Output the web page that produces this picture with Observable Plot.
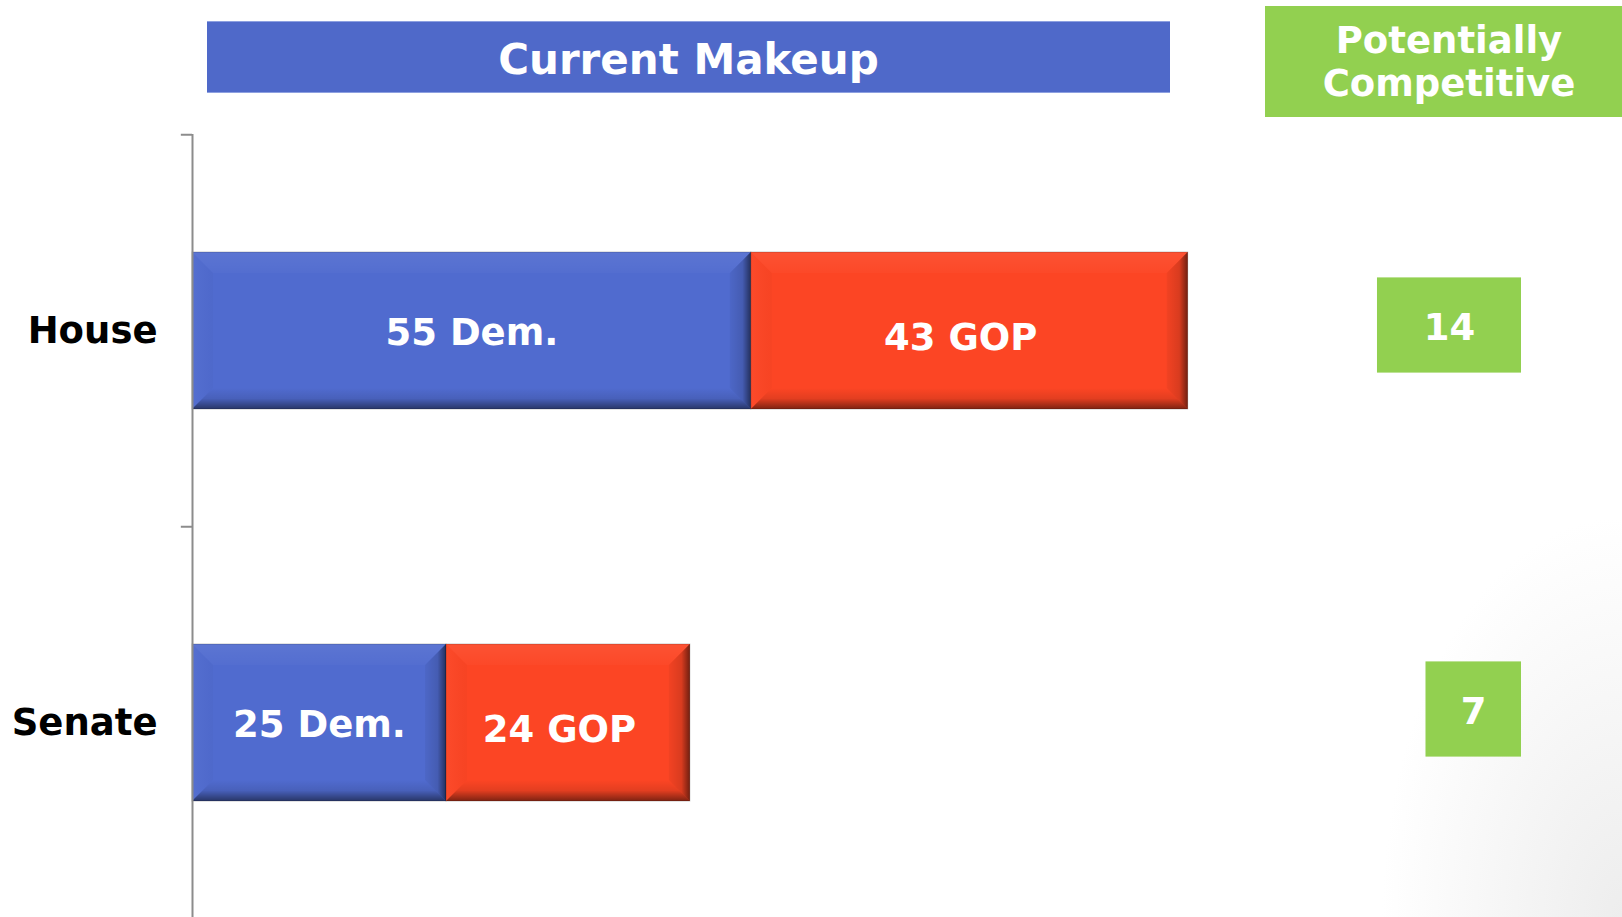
<!DOCTYPE html>
<html>
<head>
<meta charset="utf-8">
<script src="https://cdn.jsdelivr.net/npm/d3@7"></script>
<script src="https://cdn.jsdelivr.net/npm/@observablehq/plot@0.6"></script>
<style>
html, body { margin: 0; padding: 0; }
body {
  width: 1622px; height: 917px; overflow: hidden; position: relative;
  font-family: "DejaVu Sans", Verdana, sans-serif;
  background: radial-gradient(ellipse 240px 400px at 100% 100%, #ededed 0%, #f6f6f6 50%, #ffffff 100%);
}
#stage { position: absolute; left: 0; top: 0; width: 1622px; height: 917px; }
#stage svg { position: absolute; left: 0; top: 0; }
.hdr { position: absolute; color: #fff; font-weight: bold; text-align: center; box-sizing: border-box; white-space: nowrap; }
#title {
  left: 207px; top: 21px; width: 963px; height: 72px;
  background: #4F69C9; border-top: 1px solid #8da0e0; border-bottom: 1px solid #8da0e0;
  font-size: 42px; line-height: 70px; padding-top: 3px;
}
#comp {
  left: 1265px; top: 6px; width: 368px; height: 111px;
  background: #92D050; font-size: 37px; line-height: 43px; padding-top: 13px;
}
</style>
</head>
<body>
<div id="stage"></div>
<div id="title" class="hdr">Current Makeup</div>
<div id="comp" class="hdr">Potentially<br>Competitive</div>
<script>
// ---- data ----
const chambers = ["House", "Senate"];
const demSeats = [55, 25];
const gopSeats = [43, 24];
const competitive = [14, 7];
const partyNames = ["Dem.", "GOP"];
const partyColors = ["#506BCF", "#FC4524"];

// table built from the arrays
const rows = [];
chambers.forEach((c, i) => {
  rows.push({chamber: c, party: partyNames[0], seats: demSeats[i], x1: 0, x2: demSeats[i]});
  rows.push({chamber: c, party: partyNames[1], seats: gopSeats[i], x1: demSeats[i], x2: demSeats[i] + gopSeats[i]});
});
const comp = chambers.map((c, i) => ({chamber: c, value: competitive[i]}));

const FONT = "'DejaVu Sans', Verdana, sans-serif";
const yBand = {domain: chambers, paddingInner: 0.6, paddingOuter: 0.3, axis: null};
const STEP = (920 - 1 - 134) / 2;

const main = Plot.plot({
  width: 1622, height: 920,
  marginTop: 134, marginBottom: 1, marginLeft: 192, marginRight: 7.6,
  x: {domain: [0, 140], axis: null},
  y: yBand,
  color: {domain: partyNames, range: partyColors},
  style: {background: "transparent", fontFamily: FONT, overflow: "visible"},
  marks: [
    Plot.barX(rows, {y: "chamber", x1: "x1", x2: "x2", fill: "party", stroke: "rgba(0,0,0,0.22)", strokeWidth: 1}),
    Plot.ruleX([0], {stroke: "#8c8c8c", strokeWidth: 2}),
    Plot.ruleY(chambers, {y: d => d, x1: -1.1, x2: 0, dy: -STEP / 2, stroke: "#8c8c8c", strokeWidth: 2}),
    Plot.text(chambers, {y: d => d, x: 0, dx: -35, textAnchor: "end", text: d => d,
      fontSize: 37, fontWeight: "bold", fill: "black"}),
    Plot.text(rows.filter(d => d.party === partyNames[0]), {
      y: "chamber", x: d => (d.x1 + d.x2) / 2, dy: 2.5, text: d => `${d.seats} ${d.party}`,
      fill: "white", fontSize: 37, fontWeight: "bold"}),
    Plot.text(rows.filter(d => d.party === partyNames[1]), {
      y: "chamber", x: d => (d.x1 + d.x2) / 2, dx: -9, dy: 7, text: d => `${d.seats} ${d.party}`,
      fill: "white", fontSize: 37, fontWeight: "bold"})
  ]
});

// bevel decoration on the library-drawn bars
(function bevel(svg) {
  const ns = "http://www.w3.org/2000/svg";
  const defs = document.createElementNS(ns, "defs");
  defs.innerHTML = `
    <linearGradient id="bvBottom" x1="0" y1="0" x2="0" y2="1">
      <stop offset="0" stop-color="#000" stop-opacity="0"/>
      <stop offset="0.5" stop-color="#000" stop-opacity="0.1"/>
      <stop offset="1" stop-color="#000" stop-opacity="0.5"/>
    </linearGradient>
    <linearGradient id="bvRight" x1="0" y1="0" x2="1" y2="0">
      <stop offset="0" stop-color="#000" stop-opacity="0.04"/>
      <stop offset="0.6" stop-color="#000" stop-opacity="0.14"/>
      <stop offset="1" stop-color="#000" stop-opacity="0.55"/>
    </linearGradient>
    <linearGradient id="bvTop" x1="0" y1="0" x2="0" y2="1">
      <stop offset="0" stop-color="#fff" stop-opacity="0.07"/>
      <stop offset="1" stop-color="#fff" stop-opacity="0.02"/>
    </linearGradient>
    <linearGradient id="bvLeft" x1="0" y1="0" x2="1" y2="0">
      <stop offset="0" stop-color="#fff" stop-opacity="0.03"/>
      <stop offset="1" stop-color="#000" stop-opacity="0.02"/>
    </linearGradient>`;
  svg.insertBefore(defs, svg.firstChild);
  const rects = Array.from(svg.querySelectorAll('g[aria-label="bar"] rect'));
  rects.forEach(r => {
    const x = +r.getAttribute("x"), y = +r.getAttribute("y");
    const w = +r.getAttribute("width"), h = +r.getAttribute("height");
    const b = 21;
    const g = r.parentNode;
    const poly = (pts, fill) => {
      const p = document.createElementNS(ns, "polygon");
      p.setAttribute("points", pts.map(q => q.join(",")).join(" "));
      p.setAttribute("fill", fill);
      p.setAttribute("stroke", "none");
      g.appendChild(p);
    };
    poly([[x, y], [x + w, y], [x + w - b, y + b], [x + b, y + b]], "url(#bvTop)");
    poly([[x, y], [x + b, y + b], [x + b, y + h - b], [x, y + h]], "url(#bvLeft)");
    poly([[x, y + h], [x + w, y + h], [x + w - b, y + h - b], [x + b, y + h - b]], "url(#bvBottom)");
    poly([[x + w, y], [x + w, y + h], [x + w - b, y + h - b], [x + w - b, y + b]], "url(#bvRight)");
  });
})(main);

const side = Plot.plot({
  width: 1622, height: 920,
  marginTop: 132.25, marginBottom: 18.75, marginLeft: 1382.4, marginRight: 101,
  x: {domain: [0, 20], axis: null},
  y: yBand,
  style: {background: "transparent", fontFamily: FONT, overflow: "visible"},
  marks: [
    Plot.barX(comp, {y: "chamber", x1: d => 20 - d.value, x2: 20, insetLeft: -47, insetTop: 29.4, insetBottom: 29.4, fill: "#92D050"}),
    Plot.text(comp, {y: "chamber", x: d => 20 - d.value / 2, dx: -23.5, dy: 3, text: d => String(d.value),
      fill: "white", fontSize: 37, fontWeight: "bold"})
  ]
});

const stage = document.getElementById("stage");
stage.appendChild(main);
stage.appendChild(side);
</script>
</body>
</html>
